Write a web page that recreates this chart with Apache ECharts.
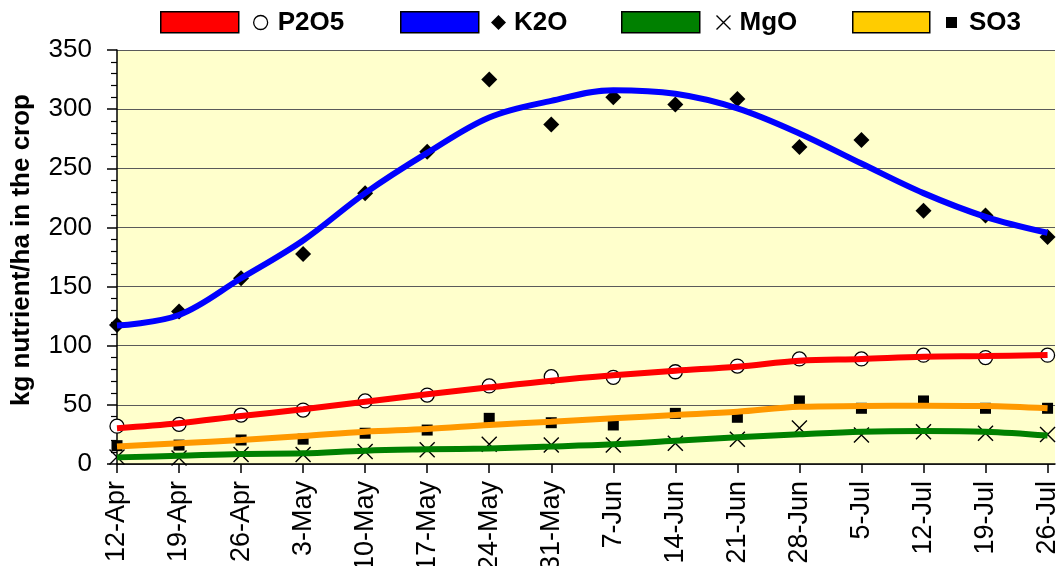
<!DOCTYPE html>
<html>
<head>
<meta charset="utf-8">
<script src="https://cdn.jsdelivr.net/npm/echarts@6/dist/echarts.min.js"></script>
<style>
  html, body { margin: 0; padding: 0; background: #ffffff; }
  #chart { width: 1064px; height: 566px; }
</style>
</head>
<body>
<div id="chart"></div>
<script>
// Sampling dates (weekly)
const dates = ['12-Apr', '19-Apr', '26-Apr', '3-May', '10-May', '17-May', '24-May', '31-May',
               '7-Jun', '14-Jun', '21-Jun', '28-Jun', '5-Jul', '12-Jul', '19-Jul', '26-Jul'];

// Measured nutrient uptake, kg/ha
const p2o5 = [32, 33.5, 41.4, 45.6, 53.3, 58.3, 66, 73.8, 73.3, 78, 82.8, 88.8, 88.8, 92, 90, 92];
const k2o  = [117.5, 129, 157, 177.5, 229, 264, 325, 287, 310, 304, 308.5, 268, 274, 214, 210, 192];
const mgo  = [6, 5, 8, 8, 10.5, 12, 16.6, 16, 16, 17.5, 21, 30.5, 24.5, 27.3, 26, 25];
const so3  = [15.5, 16, 20.3, 21, 26, 28.7, 38.6, 34.9, 33, 42.8, 39.5, 53.3, 47.1, 53.3, 47.1, 47.1];

// Fitted uptake curves at each sampling date
const p2o5Fit = [30.2, 34.4, 40.6, 46.2, 52.7, 58.9, 64.8, 70.4, 75, 78.9, 82.3, 87.3, 88.8, 90.7, 91.3, 92.1];
const k2oFit  = [117, 126, 157, 189, 229, 263, 293, 307, 316, 313, 300.7, 279.5, 254, 229, 209, 195.5];
const mgoFit  = [5.6, 7, 8.5, 9, 11.3, 12.4, 13.2, 14.7, 16.6, 19.7, 22.6, 25.1, 27.3, 27.9, 27.3, 24];
const so3Fit  = [14.7, 17.5, 20.3, 23.7, 27.3, 29.6, 33, 35.8, 38.6, 41.4, 44.2, 48.4, 49, 49.3, 49, 47.1];

// Y axis range
const yMin = 0, yMax = 350, yStep = 50;

const FONT = '"Liberation Sans", Arial, sans-serif';
const CROSS = 'path://M0,0L12,12M12,0L0,12';
const idx = dates.map((d, i) => i);
const pts = arr => arr.map((v, i) => [i, v]);

function legendItem(name, left, top, w, h, icon, itemStyle, showText, padLeft) {
  return {
    left: left, top: top, padding: 0, itemGap: 0,
    itemWidth: w, itemHeight: h, selectedMode: false,
    data: [{ name: name, icon: icon, itemStyle: itemStyle }],
    formatter: showText ? '{name}' : function () { return ''; },
    textStyle: { fontFamily: FONT, fontSize: 26, fontWeight: 'bold', color: '#000',
                 padding: [0, 0, 0, padLeft || 0] }
  };
}

function fitLine(name, data, color) {
  return {
    name: name, type: 'line', data: pts(data), smooth: 0.35,
    showSymbol: false, symbol: 'none', z: 3,
    lineStyle: { color: color, width: 6 }, itemStyle: { color: color }
  };
}

function markers(name, data, symbol, size, style) {
  style.opacity = 1;
  return {
    name: name, type: 'scatter', data: pts(data), symbol: symbol, symbolSize: size, z: 2,
    itemStyle: style
  };
}

const chart = echarts.init(document.getElementById('chart'), null, { renderer: 'canvas' });

chart.setOption({
  animation: false,
  backgroundColor: '#ffffff',
  legend: [
    legendItem('P2O5 curve', 160, 11, 78, 21, 'rect', { color: '#FF0000', borderColor: '#000', borderWidth: 1.5 }, false),
    legendItem('P2O5', 253, 9.5, 14, 14, 'circle', { color: '#FFFFFF', borderColor: '#000', borderWidth: 1.3 }, true, 5),
    legendItem('K2O curve', 400, 11, 78, 21, 'rect', { color: '#0000FF', borderColor: '#000', borderWidth: 1.5 }, false),
    legendItem('K2O', 491, 9.5, 15, 15, 'diamond', { color: '#000', borderWidth: 0, opacity: 1 }, true, 3),
    legendItem('MgO curve', 621, 11, 78, 21, 'rect', { color: '#008000', borderColor: '#000', borderWidth: 1.5 }, false),
    legendItem('MgO', 714, 9.5, 14, 14, CROSS, { color: 'none', borderColor: '#000', borderWidth: 1.4 }, true, 4),
    legendItem('SO3 curve', 852, 11, 77, 21, 'rect', { color: '#FFCC00', borderColor: '#000', borderWidth: 1.5 }, false),
    legendItem('SO3', 946, 9.5, 11, 11, 'rect', { color: '#000', borderWidth: 0, opacity: 1 }, true, 7)
  ],
  grid: {
    left: 117, right: 9, top: 50, bottom: 102,
    show: true, backgroundColor: '#FFFFCC', borderWidth: 0,
    containLabel: false, outerBoundsMode: 'none'
  },
  xAxis: {
    type: 'value', min: 0, max: 15.12,
    axisLine: { show: true, onZero: false, lineStyle: { color: '#000', width: 1.5 } },
    axisTick: { show: true, customValues: idx, length: 9, inside: false,
                lineStyle: { color: '#000', width: 1.5 } },
    axisLabel: {
      customValues: idx, rotate: 90, margin: 17,
      formatter: function (v) { return dates[Math.round(v)]; },
      fontFamily: FONT, fontSize: 27, color: '#000'
    },
    splitLine: { show: false }
  },
  yAxis: {
    type: 'value', min: yMin, max: yMax, interval: yStep,
    name: 'kg nutrient/ha in the crop', nameLocation: 'middle', nameGap: 82, nameRotate: 90,
    nameTextStyle: { fontFamily: FONT, fontSize: 26, fontWeight: 'bold', color: '#000',
                     padding: [0, 0, 0, 14] },
    axisLine: { show: true, lineStyle: { color: '#000', width: 1.5 } },
    axisTick: { show: true, length: 10, inside: false, lineStyle: { color: '#000', width: 1.5 } },
    minorTick: { show: true, splitNumber: 5, length: 6, lineStyle: { color: '#000', width: 1.2 } },
    axisLabel: { fontFamily: FONT, fontSize: 26, color: '#000', margin: 25 },
    splitLine: { show: true, lineStyle: { color: '#5a5a5a', width: 1 } },
    minorSplitLine: { show: false }
  },
  series: [
    markers('P2O5', p2o5, 'circle', 14, { color: '#FFFFFF', borderColor: '#000', borderWidth: 1.3 }),
    markers('K2O', k2o, 'diamond', 16, { color: '#000' }),
    markers('MgO', mgo, CROSS, 15, { color: 'none', borderColor: '#000', borderWidth: 1.4 }),
    markers('SO3', so3, 'rect', 11, { color: '#000' }),
    fitLine('P2O5 curve', p2o5Fit, '#FF0000'),
    fitLine('K2O curve', k2oFit, '#0000FF'),
    fitLine('MgO curve', mgoFit, '#008000'),
    fitLine('SO3 curve', so3Fit, '#FF9900')
  ]
});
</script>
</body>
</html>
